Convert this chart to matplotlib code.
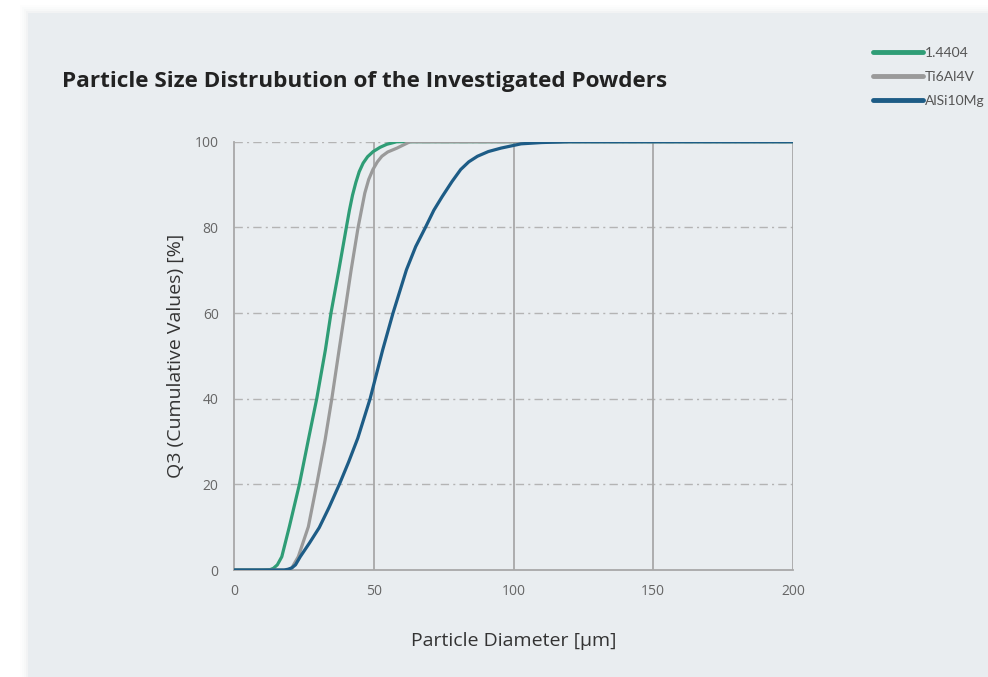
import matplotlib.pyplot as plt
from matplotlib.patches import Rectangle

# cumulative particle size distributions
d_14404 = [0, 10, 13, 14.1, 15.5, 17.1, 19.8, 23.4, 26.6, 29.6, 32.7, 34.7, 37.5, 40.2,
           41.3, 42.4, 43.6, 44.8, 46.2, 47.8, 49.8, 52.3, 54.7, 58.3, 65, 100, 150, 200]
q_14404 = [0, 0, 0.1, 0.4, 1.2, 3.1, 10.1, 20, 30.4, 40, 51.4, 60, 70, 80,
           84, 87.5, 90.5, 93, 95, 96.5, 97.7, 98.7, 99.4, 100, 100, 100, 100, 100]

d_ti = [0, 18, 19.5, 20.7, 23.0, 26.6, 29.6, 32.6, 35.0, 37.6, 39.6, 41.9, 44.4,
        45.6, 46.8, 48.2, 49.7, 51.3, 52.9, 55, 58.3, 63, 100, 200]
q_ti = [0, 0, 0.1, 0.5, 3.1, 10.1, 20, 30.4, 40, 51.4, 60, 70, 80,
        84, 88, 91.2, 93.5, 95.3, 96.6, 97.6, 98.5, 100, 100, 100]

d_al = [0, 18, 19.5, 20.7, 22, 23.7, 27, 30.5, 34, 37.7, 41, 44.3, 48.7, 53.2,
        56.9, 61.7, 65, 68.5, 71.5, 74.5, 78, 81.1, 84, 87.1, 91, 95.5, 102.7,
        110, 120, 200]
q_al = [0, 0, 0.2, 0.5, 1.2, 3.1, 6.3, 9.9, 14.6, 20, 25.2, 30.8, 40, 51.4,
        60, 70.1, 75.5, 80, 84, 87.2, 90.7, 93.5, 95.3, 96.6, 97.7, 98.5, 99.5,
        99.8, 100, 100]

labels = ["1.4404", "Ti6Al4V", "AlSi10Mg"]
colors = ["#2f9d76", "#9a9a9a", "#1d5c86"]

x_ticks = [0, 50, 100, 150, 200]
y_ticks = [0, 20, 40, 60, 80, 100]

plt.rcParams['font.family'] = ['Open Sans', 'DejaVu Sans']

fig = plt.figure(figsize=(9.88, 6.77), dpi=100)
fig.patch.set_facecolor("white")

# card background with a soft shadow
W, H = 988, 677
for i, a in enumerate([0.03, 0.04, 0.06, 0.09]):
    off = 8 - 2 * i
    fig.patches.append(Rectangle(((28 - off) / W, 0), 1, 1 - (13 - off) / H,
                                 transform=fig.transFigure, facecolor="#c8cbce",
                                 alpha=a, edgecolor="none", zorder=-5))
fig.patches.append(Rectangle((28 / W, 0), 1, 1 - 13 / H, transform=fig.transFigure,
                             facecolor="#e9edf0", edgecolor="none", zorder=-4))

ax = fig.add_axes([234 / W, 1 - 570 / H, 559 / W, 428.3 / H], zorder=2)
ax.set_facecolor("none")

series = [(d_14404, q_14404), (d_ti, q_ti), (d_al, q_al)]
for (d, q), lab, c in zip(series, labels, colors):
    ax.plot(d, q, color=c, lw=2.3, label=lab, zorder=3,
            solid_capstyle="round", solid_joinstyle="round")

ax.set_xlim(0, 200)
ax.set_ylim(0, 100)
ax.set_xticks(x_ticks)
ax.set_yticks(y_ticks)

# dash-dot horizontal grid, solid vertical grid
for yv in y_ticks[1:]:
    ax.axhline(yv, color="#b4b4b4", lw=1, ls=(0, (6, 3, 1.5, 3)), zorder=1)
for xv in x_ticks[1:]:
    ax.axvline(xv, color="#a8a8a8", lw=1.3, zorder=1)

for s in ["top", "right"]:
    ax.spines[s].set_visible(False)
for s in ["left", "bottom"]:
    ax.spines[s].set_color("#a8a8a8")
    ax.spines[s].set_linewidth(1.3)

ax.tick_params(length=0, labelsize=10, labelcolor="#666666")
ax.tick_params(axis="y", pad=11)
ax.tick_params(axis="x", pad=10)

ax.set_xlabel("Particle Diameter [µm]", fontsize=14, color="#333333", labelpad=24)
ax.set_ylabel("Q3 (Cumulative Values) [%]", fontsize=14, color="#333333", labelpad=7)

fig.text(62 / W, 1 - 82 / H, "Particle Size Distrubution of the Investigated Powders",
         fontsize=16.2, fontweight="bold", color="#222222", va="center", ha="left")

leg = fig.legend(loc="upper left", bbox_to_anchor=(873 / W, 1 - 47 / H), frameon=False,
                 handlelength=3.6, handletextpad=0.15, labelspacing=0.85,
                 borderpad=0, borderaxespad=0,
                 prop={"family": ["Lato", "Open Sans"], "size": 10})
for t in leg.get_texts():
    t.set_color("#555555")
for h in leg.get_lines():
    h.set_linewidth(3.5)

fig.savefig("out.png", dpi=100)
